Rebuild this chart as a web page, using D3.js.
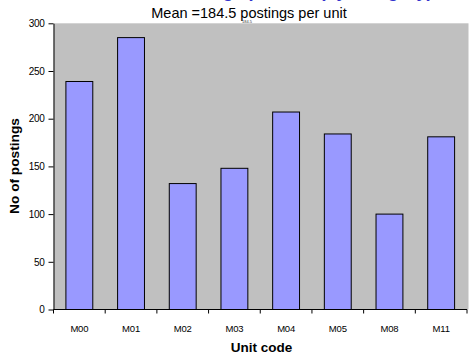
<!DOCTYPE html>
<html><head><meta charset="utf-8">
<script src="https://cdn.jsdelivr.net/npm/d3@7"></script>
<style>body{margin:0;background:#fff}svg{display:block;font-family:"Liberation Sans",Arial,sans-serif}</style>
</head><body>
<svg id="c" width="469" height="358"></svg>
<script>
const categories = ["M00","M01","M02","M03","M04","M05","M08","M11"];
const postings = [239,285,132,148,207,184,100,181];
const yTicks = [0,50,100,150,200,250,300];
const subtitle = "Mean =184.5 postings per unit";

const svg = d3.select("#c");
const m = {left:53.5, right:467, top:23.3, bottom:309.5};
const x = d3.scaleBand().domain(categories).range([m.left, m.right]).paddingInner(0.48).paddingOuter(0.24);
const y = d3.scaleLinear().domain([0,300]).range([m.bottom, m.top]);

svg.append("rect").attr("x",m.left).attr("y",m.top).attr("width",m.right-m.left+1.5).attr("height",m.bottom-m.top).attr("fill","#C0C0C0");

svg.selectAll("rect.bar").data(postings).join("rect").attr("class","bar")
  .attr("x",(d,i)=>x(categories[i])).attr("y",d=>y(d))
  .attr("width",x.bandwidth()).attr("height",d=>y(0)-y(d))
  .attr("fill","#9999FF").attr("stroke","#000").attr("stroke-width",1);

// y axis
const ya = svg.append("g").attr("transform",`translate(${m.left},0)`)
  .call(d3.axisLeft(y).tickValues(yTicks).tickSize(5).tickPadding(4).tickSizeOuter(0));
ya.select(".domain").attr("stroke","#000");
ya.selectAll("line").attr("stroke","#000");
ya.selectAll("text").attr("font-size",10).attr("fill","#000").attr("font-family","'Liberation Sans', Arial, sans-serif").attr("letter-spacing","-0.3");

// x axis
const bw = x.step();
const xa = svg.append("g").attr("transform",`translate(0,${m.bottom})`);
xa.append("line").attr("x1",m.left).attr("x2",m.right).attr("stroke","#000");
xa.selectAll("line.t").data(d3.range(categories.length+1)).join("line").attr("class","t")
  .attr("x1",i=>m.left+i*bw).attr("x2",i=>m.left+i*bw).attr("y1",0).attr("y2",4).attr("stroke","#000");
xa.selectAll("text").data(categories).join("text")
  .attr("x",d=>x(d)+x.bandwidth()/2).attr("y",22).attr("text-anchor","middle")
  .attr("font-size",9.5).attr("letter-spacing","-0.2").text(d=>d);

svg.append("text").attr("x",261.5).attr("y",352).attr("text-anchor","middle")
  .attr("font-size",13.5).attr("font-weight","bold").text("Unit code");
svg.append("text").attr("transform","translate(18.5,166) rotate(-90)").attr("text-anchor","middle")
  .attr("font-size",13.7).attr("font-weight","bold").text("No of postings");

svg.append("text").attr("x",249).attr("y",18).attr("text-anchor","middle").attr("font-size",14.5).text(subtitle);
svg.append("text").attr("x",247).attr("y",23).attr("text-anchor","middle").attr("font-size",4).attr("fill","#333").text("184.5");
svg.append("text").attr("x",300).attr("y",-3.2).attr("text-anchor","middle").attr("font-size",18).attr("font-weight","bold").attr("fill","#3333CC").text("Postings per unit (by category)");
</script>
</body></html>
